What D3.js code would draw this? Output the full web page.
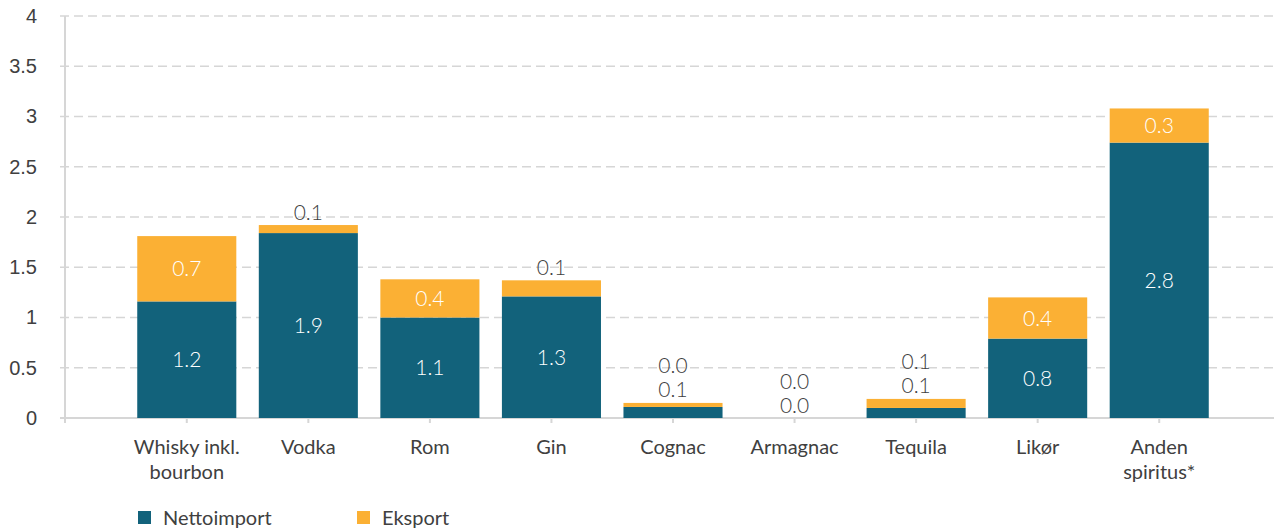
<!DOCTYPE html>
<html>
<head>
<meta charset="utf-8">
<script src="https://cdn.jsdelivr.net/npm/d3@7"></script>
<style>
  body { margin: 0; background: #fff; }
  svg { display: block; font-family: Lato, "Open Sans", sans-serif; }
</style>
</head>
<body>
<div id="main"></div>
<script>
// categories and values (mia. kr.)
var categories = [["Whisky inkl.", "bourbon"], ["Vodka"], ["Rom"], ["Gin"], ["Cognac"], ["Armagnac"], ["Tequila"], ["Likør"], ["Anden", "spiritus*"]];
var nettoimport = [1.16, 1.84, 1.0, 1.21, 0.11, 0.0, 0.1, 0.79, 2.74];
var eksport = [0.65, 0.08, 0.38, 0.16, 0.04, 0.0, 0.09, 0.41, 0.34];
var nettoLabels = ["1.2", "1.9", "1.1", "1.3", "0.1", "0.0", "0.1", "0.8", "2.8"];
var eksportLabels = ["0.7", "0.1", "0.4", "0.1", "0.0", "0.0", "0.1", "0.4", "0.3"];
var yTicks = [0, 0.5, 1, 1.5, 2, 2.5, 3, 3.5, 4];
var seriesNames = ["Nettoimport", "Eksport"];
var colors = ["#12627b", "#fbb034"];

var W = 1274, H = 529;
var svg = d3.select('#main').append('svg').attr('width', W).attr('height', H);

var x = d3.scaleBand().domain(d3.range(categories.length)).range([126, 1220]).paddingInner(0.185).paddingOuter(0.0925);
var y = d3.scaleLinear().domain([0, 4]).range([418, 16]);
var axisX = 65;
var textColor = '#404040';

// gridlines
svg.append('g').selectAll('line').data(yTicks.filter(function(d) { return d > 0; })).enter().append('line')
    .attr('x1', axisX - 5).attr('x2', W).attr('y1', function(d) { return y(d); }).attr('y2', function(d) { return y(d); })
    .attr('stroke', '#d6d6d6').attr('stroke-width', 1.5).attr('stroke-dasharray', '9,5');

// y axis
var yAxis = d3.axisLeft(y).tickValues(yTicks).tickSize(0).tickPadding(28).tickFormat(d3.format('~g'));
var gy = svg.append('g').attr('transform', 'translate(' + axisX + ',0)').call(yAxis);
gy.select('.domain').attr('stroke', '#d6d6d6').attr('stroke-width', 2).attr('d', 'M0,' + y(4) + 'V' + (y(0) + 5));
gy.selectAll('text').attr('font-size', 20).attr('fill', textColor).attr('font-family', null);

// x axis line and ticks
svg.append('line').attr('x1', axisX - 5).attr('x2', W).attr('y1', y(0)).attr('y2', y(0))
    .attr('stroke', '#d6d6d6').attr('stroke-width', 2);
svg.append('g').selectAll('line').data(d3.range(categories.length)).enter().append('line')
    .attr('x1', function(i) { return x(i) + x.bandwidth() / 2; }).attr('x2', function(i) { return x(i) + x.bandwidth() / 2; })
    .attr('y1', y(0)).attr('y2', y(0) + 5).attr('stroke', '#d6d6d6').attr('stroke-width', 2);

// category labels
var cat = svg.append('g').selectAll('text').data(categories).enter().append('text')
    .attr('x', function(d, i) { return x(i) + x.bandwidth() / 2; }).attr('y', 454)
    .attr('text-anchor', 'middle').attr('font-size', 20).attr('fill', textColor);
cat.selectAll('tspan').data(function(d) { return d; }).enter().append('tspan')
    .attr('x', function() { return this.parentNode.getAttribute('x'); })
    .attr('dy', function(d, j) { return j ? 25 : 0; }).text(function(d) { return d; });

// stacked bars
var rows = categories.map(function(c, i) { return { i: i, n: nettoimport[i], e: eksport[i] }; });
var bars = svg.append('g');
bars.selectAll('rect.n').data(rows).enter().append('rect').attr('class', 'n')
    .attr('x', function(d) { return x(d.i); }).attr('width', x.bandwidth())
    .attr('y', function(d) { return y(d.n); }).attr('height', function(d) { return y(0) - y(d.n); })
    .attr('fill', colors[0]);
bars.selectAll('rect.e').data(rows).enter().append('rect').attr('class', 'e')
    .attr('x', function(d) { return x(d.i); }).attr('width', x.bandwidth())
    .attr('y', function(d) { return y(d.n + d.e); }).attr('height', function(d) { return y(d.n) - y(d.n + d.e); })
    .attr('fill', colors[1]);

// value labels: inside when the segment is tall enough, otherwise stacked above the bar
var labels = [];
rows.forEach(function(d) {
    var cx = x(d.i) + x.bandwidth() / 2, top = y(d.n + d.e), k = 0;
    var segs = [
        { lo: 0, hi: d.n, t: nettoLabels[d.i] },
        { lo: d.n, hi: d.n + d.e, t: eksportLabels[d.i] }
    ];
    segs.forEach(function(s) {
        var h = y(s.lo) - y(s.hi);
        if (h >= 22) labels.push({ x: cx, y: (y(s.lo) + y(s.hi)) / 2, t: s.t, fill: '#fff' });
        else { labels.push({ x: cx, y: top - 13 - 24 * k, t: s.t, fill: textColor }); k++; }
    });
});
svg.append('g').selectAll('text').data(labels).enter().append('text')
    .attr('x', function(d) { return d.x; }).attr('y', function(d) { return d.y; })
    .attr('dy', '0.36em').attr('text-anchor', 'middle').attr('font-size', 21).attr('font-weight', 300)
    .attr('fill', function(d) { return d.fill; }).text(function(d) { return d.t; });

// legend
var legX = [138, 357];
var leg = svg.append('g').selectAll('g').data(seriesNames).enter().append('g')
    .attr('transform', function(d, i) { return 'translate(' + legX[i] + ',511)'; });
leg.append('rect').attr('width', 13).attr('height', 13).attr('fill', function(d, i) { return colors[i]; });
leg.append('text').attr('x', 25).attr('y', 6.5).attr('dy', '0.36em').attr('font-size', 20)
    .attr('fill', textColor).text(function(d) { return d; });
</script>
</body>
</html>
